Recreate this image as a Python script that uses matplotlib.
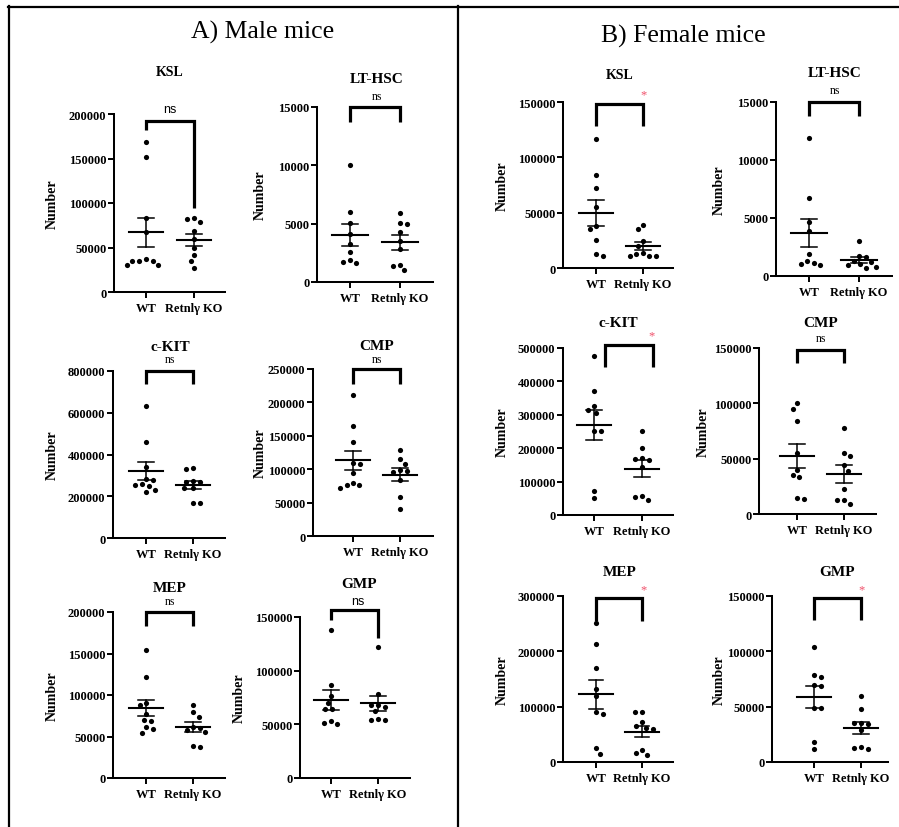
import matplotlib
matplotlib.use('Agg')
import matplotlib.pyplot as plt
import numpy as np
from matplotlib.lines import Line2D

W, H = 899, 828

groups = ['WT', 'Retnlγ KO']
populations = ['KSL', 'LT-HSC', 'c-KIT', 'CMP', 'MEP', 'GMP']

# A) male mice, cell numbers per mouse
male_ksl_wt = [168000, 152000, 83000, 67000, 37000, 35000, 35000, 35000, 30000, 30000]
male_ksl_ko = [83000, 82000, 79000, 68000, 60000, 50000, 42000, 35000, 27000]
male_lthsc_wt = [10000, 6000, 5100, 4100, 3300, 2600, 1900, 1700, 1600]
male_lthsc_ko = [5900, 5100, 5000, 4300, 3500, 2800, 1500, 1400, 1000]
male_ckit_wt = [630000, 461000, 339000, 285000, 280000, 250000, 255000, 258000, 220000, 232000]
male_ckit_ko = [333000, 330000, 275000, 270000, 268000, 240000, 238000, 170000, 168000]
male_cmp_wt = [211000, 164000, 141000, 110000, 108000, 95000, 80000, 72000, 76000, 76000]
male_cmp_ko = [128000, 116000, 108000, 99000, 97000, 96000, 84000, 59000, 40000]
male_mep_wt = [154600, 121700, 90800, 87500, 77500, 69500, 68300, 61400, 58600, 54600]
male_mep_ko = [87500, 79000, 74000, 62000, 60000, 58000, 55000, 37000, 39000]
male_gmp_wt = [138000, 87000, 76000, 70000, 64500, 64000, 50000, 53000, 51500]
male_gmp_ko = [122000, 78000, 68000, 68000, 66000, 54000, 54000, 55000, 62000]

# B) female mice
female_ksl_wt = [117000, 84000, 72000, 55000, 38000, 35000, 25500, 11000, 13000]
female_ksl_ko = [39000, 35000, 24000, 20000, 13500, 13000, 10500, 10500, 10500]
female_lthsc_wt = [11900, 6700, 4650, 3900, 1900, 920, 1320, 1030, 1120]
female_lthsc_ko = [3000, 1650, 1700, 1300, 1200, 800, 1000, 700, 950]
female_ckit_wt = [475000, 370000, 325000, 315000, 305000, 252000, 252000, 72000, 51000]
female_ckit_ko = [251000, 202000, 167000, 165000, 170000, 143000, 56000, 53000, 44000]
female_cmp_wt = [100000, 95000, 84000, 55000, 40000, 35000, 33000, 14000, 14500]
female_cmp_ko = [77600, 55300, 52300, 44000, 39000, 22800, 9300, 13000, 13000]
female_mep_wt = [251000, 213000, 169000, 132000, 119000, 86000, 90000, 25000, 15000]
female_mep_ko = [91000, 90000, 72000, 62000, 60000, 65000, 22000, 13000, 16000]
female_gmp_wt = [104000, 77000, 79000, 69000, 70000, 49000, 49000, 18000, 11400]
female_gmp_ko = [60000, 47600, 35000, 35000, 34000, 28500, 12000, 13500, 12600]

male_ymax = [200000, 15000, 800000, 250000, 200000, 150000]
male_ystep = [50000, 5000, 200000, 50000, 50000, 50000]
female_ymax = [150000, 15000, 500000, 150000, 300000, 150000]
female_ystep = [50000, 5000, 100000, 50000, 100000, 50000]

male_sig = ['ns', 'ns', 'ns', 'ns', 'ns', 'ns']
female_sig = ['*', 'ns', '*', 'ns', '*', '*']

# bracket levels: top, end of left leg, end of right leg
male_brackets = [(192000, 182000, 94400), (15000, 13700, 13700), (800000, 737700, 737700),
                 (250000, 227500, 227500), (200000, 183100, 183100), (156500, 147200, 130400)]
female_brackets = [(148200, 128300, 128300), (15000, 13800, 13800), (509000, 443100, 443100),
                   (148200, 136400, 136400), (296400, 254800, 254800), (148200, 128300, 128300)]

# layout in pixels: left, top, bottom, right, tick0, tick1, title x/baseline,
# sig x/y, ylabel x, sig font, bracket shift
male_layout = [
    (114, 115, 293, 225, 146, 194, 170, 76, 170, 113, 52, 'sans', 0.0),
    (317, 108, 283, 433, 350, 400, 377, 83, 377, 100, 260, 'serif', 0.0),
    (113, 372, 539, 225, 146, 193, 170, 351, 170, 363, 52, 'serif', 0.0),
    (313, 370, 537, 433, 353, 400, 377, 350, 377, 363, 260, 'serif', 0.0),
    (113, 613, 779, 225, 146, 193, 170, 592, 170, 605, 52, 'serif', 0.0),
    (300, 618, 779, 410, 331, 378, 359, 588, 358, 605, 239, 'sans', 0.0),
]
female_layout = [
    (563, 103, 269, 673, 596, 643, 620, 79, 644, 93, 502, 'serif', 0.0),
    (776, 103, 277, 892, 809, 859, 835, 77, 835, 94, 719, 'serif', 0.0),
    (563, 349, 516, 673, 594, 642, 618, 327, 652, 334, 502, 'serif', 0.22),
    (759, 349, 515, 876, 797, 844, 821, 327, 821, 342, 703, 'serif', 0.0),
    (563, 597, 763, 673, 596, 642, 620, 576, 644, 588, 502, 'serif', 0.0),
    (772, 597, 763, 888, 814, 861, 837, 576, 862, 588, 719, 'serif', 0.0),
]

SERIF = 'Liberation Serif'
SANS = 'Liberation Sans'
STAR_RED = '#f0506a'

fig = plt.figure(figsize=(W / 100, H / 100), dpi=100)


def fx(px):
    return px / W


def fy(py):
    return 1 - py / H


def swarm(values, px_per_val, sep=7.0):
    """Simple beeswarm offsets in pixels"""
    offs = np.zeros(len(values))
    placed = []
    order = np.argsort(values)[::-1]
    for k, i in enumerate(order):
        y = values[i] * px_per_val
        blocked = []
        for xj, yj in placed:
            dy = abs(y - yj)
            if dy < sep:
                hw = np.sqrt(sep ** 2 - dy ** 2)
                blocked.append((xj - hw, xj + hw))
        cands = [0.0] + [b[0] for b in blocked] + [b[1] for b in blocked]
        ok = [c for c in cands if all(not (lo + 1e-6 < c < hi - 1e-6) for lo, hi in blocked)]
        sgn = 1 if k % 2 else -1
        best = min(ok, key=lambda c: (round(abs(c), 3), c * sgn))
        offs[i] = best
        placed.append((best, y))
    return offs


def draw_panel(lay, title, wt, ko, ymax, ystep, bracket, sig):
    (left, top, bottom, right, t0, t1, tx, ty, sx, sy, ylx, sig_font, bshift) = lay
    ax = fig.add_axes([fx(left), fy(bottom), (right - left) / W, (bottom - top) / H])
    unit = t1 - t0
    ax.set_xlim(-(t0 - left) / unit, (right - t0) / unit)
    ax.set_ylim(0, ymax)
    px_per_val = (bottom - top) / ymax

    for g, vals in enumerate([wt, ko]):
        vals = np.array(vals, dtype=float)
        offs = swarm(vals, px_per_val)
        ax.scatter(g + offs / unit, vals, s=14, color='black', linewidths=0,
                   zorder=3, clip_on=False)
        m = vals.mean()
        se = vals.std(ddof=1) / np.sqrt(len(vals))
        ax.plot([g - 0.36, g + 0.36], [m, m], color='black', lw=1.5, zorder=4)
        ax.plot([g, g], [m - se, m + se], color='black', lw=1.1, zorder=4)
        for yy in (m - se, m + se):
            ax.plot([g - 0.16, g + 0.16], [yy, yy], color='black', lw=1.1, zorder=4)

    btop, bl, br = bracket
    ax.plot([bshift, bshift, 1 + bshift, 1 + bshift], [bl, btop, btop, br],
            color='black', lw=2.3, clip_on=False, solid_joinstyle='miter',
            solid_capstyle='butt', zorder=5)

    ax.set_xticks([0, 1])
    ax.set_xticklabels(groups)
    ax.set_yticks(np.arange(0, ymax + 1, ystep))
    ax.set_yticklabels([str(int(v)) for v in np.arange(0, ymax + 1, ystep)])
    for lab in ax.get_xticklabels() + ax.get_yticklabels():
        lab.set_fontfamily(SERIF)
        lab.set_fontweight('bold')
        lab.set_fontsize(9)
    ax.tick_params(axis='y', length=4.5, width=1.4, pad=1)
    ax.tick_params(axis='x', length=4.5, width=1.4, pad=2.5)
    for side in ['top', 'right']:
        ax.spines[side].set_visible(False)
    for side in ['left', 'bottom']:
        ax.spines[side].set_linewidth(1.45)
    ax.patch.set_alpha(0)

    tsize = 10 if title == 'KSL' else 11
    fig.text(fx(tx), fy(ty), title, family=SERIF, fontweight='bold',
             fontsize=tsize, ha='center', va='baseline')
    if sig == '*':
        fig.text(fx(sx), fy(sy + 5), '*', family=SERIF, fontsize=9,
                 color=STAR_RED, ha='center', va='baseline')
    else:
        fam = SANS if sig_font == 'sans' else SERIF
        fs = 9 if sig_font == 'sans' else 8.5
        fig.text(fx(sx), fy(sy), sig, family=fam, fontsize=fs,
                 ha='center', va='baseline')
    fig.text(fx(ylx), fy((top + bottom) / 2), 'Number', family=SERIF,
             fontweight='bold', fontsize=10, rotation=90, ha='center', va='center')


male_data = [(male_ksl_wt, male_ksl_ko), (male_lthsc_wt, male_lthsc_ko),
             (male_ckit_wt, male_ckit_ko), (male_cmp_wt, male_cmp_ko),
             (male_mep_wt, male_mep_ko), (male_gmp_wt, male_gmp_ko)]
female_data = [(female_ksl_wt, female_ksl_ko), (female_lthsc_wt, female_lthsc_ko),
               (female_ckit_wt, female_ckit_ko), (female_cmp_wt, female_cmp_ko),
               (female_mep_wt, female_mep_ko), (female_gmp_wt, female_gmp_ko)]

for i in range(6):
    draw_panel(male_layout[i], populations[i], male_data[i][0], male_data[i][1],
               male_ymax[i], male_ystep[i], male_brackets[i], male_sig[i])
    draw_panel(female_layout[i], populations[i], female_data[i][0], female_data[i][1],
               female_ymax[i], female_ystep[i], female_brackets[i], female_sig[i])

# panel headings
fig.text(fx(263), fy(39), 'A) Male mice', family=SERIF, fontsize=18.5,
         ha='center', va='baseline')
fig.text(fx(683), fy(43), 'B) Female mice', family=SERIF, fontsize=18.5,
         ha='center', va='baseline')

# frame lines
frame_lw = 1.6
fig.add_artist(Line2D([fx(8), fx(899)], [fy(7.5), fy(7.5)], color='black', lw=frame_lw))
fig.add_artist(Line2D([fx(9), fx(9)], [fy(7), fy(828)], color='black', lw=frame_lw))
fig.add_artist(Line2D([fx(458), fx(458)], [fy(7), fy(828)], color='black', lw=frame_lw))

fig.savefig('out.png', dpi=100)
